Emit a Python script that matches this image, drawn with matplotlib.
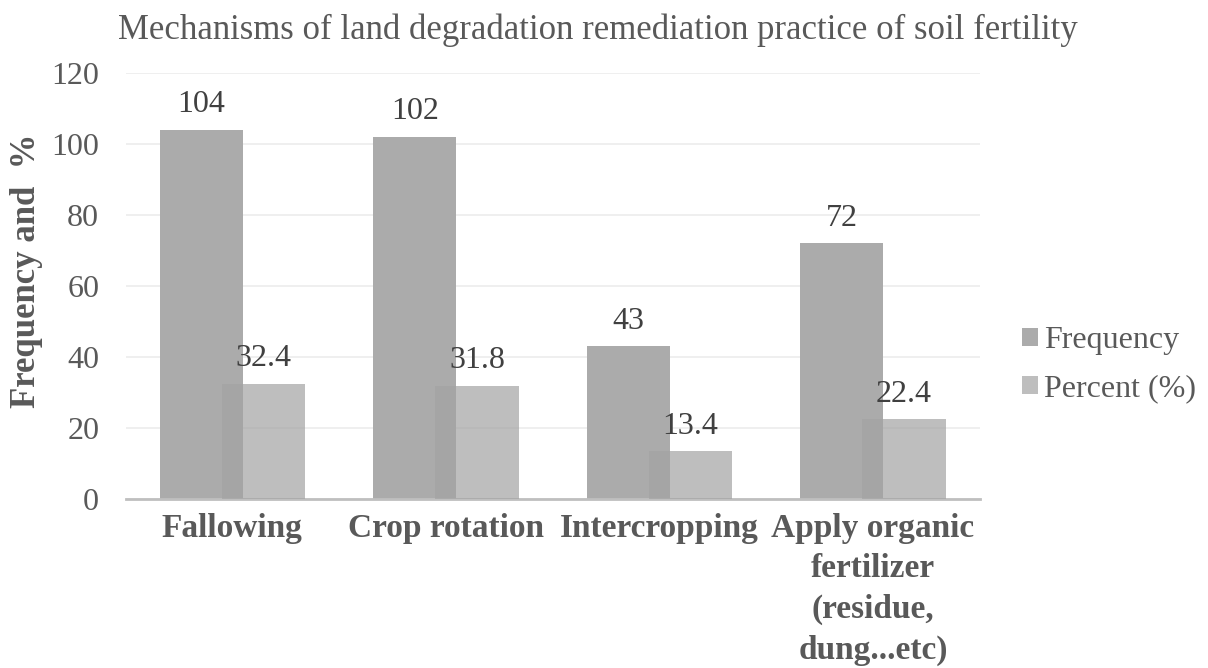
import numpy as np
import matplotlib.pyplot as plt

plt.rcParams['font.family'] = ['Liberation Serif', 'DejaVu Serif']

categories = ['Fallowing', 'Crop rotation', 'Intercropping',
              'Apply organic\nfertilizer\n(residue,\ndung...etc)']
frequency = [104, 102, 43, 72]
percent = [32.4, 31.8, 13.4, 22.4]

fig = plt.figure(figsize=(12.08, 6.68), dpi=100)
ax = fig.add_axes([0.104, 0.253, 0.707, 0.638])

x = np.arange(len(categories))
w = 0.39
off = 0.146
b1 = ax.bar(x - off, frequency, w, color='#ababab', label='Frequency', zorder=2)
b2 = ax.bar(x + off, percent, w, color='#a3a3a3', alpha=0.7, label='Percent (%)', zorder=3)

for bars, vals in [(b1, frequency), (b2, percent)]:
    for rect, v in zip(bars, vals):
        ax.text(rect.get_x() + rect.get_width() / 2, v + 3, f'{v:g}',
                ha='center', va='bottom', fontsize=23, color='#404040')

ax.set_xlim(-0.5, 3.5)
ax.set_ylim(0, 120)
ax.set_yticks(np.arange(0, 121, 20))
ax.yaxis.grid(True, color='#ececec', linewidth=1.2, zorder=0)
ax.set_axisbelow(True)
for s in ['top', 'right', 'left']:
    ax.spines[s].set_visible(False)
ax.spines['bottom'].set_color('#bfbfbf')
ax.spines['bottom'].set_linewidth(2)
ax.tick_params(length=0)
ax.tick_params(axis='y', labelsize=23, labelcolor='#595959', pad=19)
ax.set_xticks(x)
ax.set_xticklabels(categories, fontsize=24, fontweight='bold', color='#595959',
                   linespacing=1.4, va='top')
ax.tick_params(axis='x', pad=10)

ax.set_ylabel('Frequency and  %', fontsize=25, fontweight='bold', color='#595959')
ax.yaxis.set_label_coords(-0.097, 0.535)

fig.text(0.495, 0.955, 'Mechanisms of land degradation remediation practice of soil fertility',
         ha='center', va='center', fontsize=25, color='#595959')

ax.legend(loc='center left', bbox_to_anchor=(1.016, 0.315), frameon=False, fontsize=23,
          handlelength=0.5, handleheight=0.5, handletextpad=0.2, labelspacing=0.6,
          labelcolor='#595959')

fig.savefig('out.png', dpi=100)
